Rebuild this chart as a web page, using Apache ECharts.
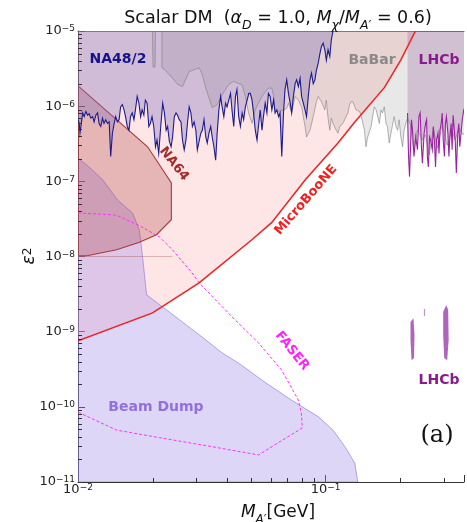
<!DOCTYPE html>
<html><head><meta charset="utf-8">
<script src="https://cdn.jsdelivr.net/npm/echarts@6/dist/echarts.min.js"></script>
<style>html,body{margin:0;padding:0;background:#fff}#c{width:467px;height:522px}</style>
</head><body><div id="c"></div>
<script>
// All shapes: pairs of [log10(M_A' / GeV), log10(epsilon^2)]
const xTickExps = [-2, -1];
const yTickExps = [-11, -10, -9, -8, -7, -6, -5];
const minorMultipliers = [2, 3, 4, 5, 6, 7, 8, 9];
const X_MIN_EXP = -2, X_MAX_EXP = -0.441, Y_MIN_EXP = -11, Y_MAX_EXP = -5;

const microbooneLine = [[-2.000,-9.12],[-1.699,-8.75],[-1.511,-8.35],[-1.299,-7.78],[-1.218,-7.55],[-1.082,-6.98],[-0.950,-6.49],[-0.882,-6.21],[-0.762,-5.75],[-0.697,-5.39],[-0.637,-5.00]];

const beamDumpEdge = [[-2.000,-6.69],[-1.952,-6.82],[-1.900,-6.98],[-1.840,-7.25],[-1.780,-7.42],[-1.752,-7.65],[-1.739,-8.01],[-1.723,-8.51],[-1.659,-8.67],[-1.591,-8.84],[-1.499,-9.07],[-1.419,-9.28],[-1.351,-9.42],[-1.242,-9.68],[-1.138,-9.91],[-1.030,-10.13],[-0.970,-10.31],[-0.922,-10.53],[-0.882,-10.75],[-0.870,-11.00]];

const na64Edge = [[-2.000,-5.73],[-1.719,-6.54],[-1.623,-7.02],[-1.623,-7.51],[-1.683,-7.71],[-1.752,-7.81],[-1.844,-7.91],[-1.964,-7.99],[-2.000,-7.99]];
const na64Floor = [[-2.000,-8.00],[-1.619,-8.00]];

const na48Line = [[-2.000,-6.18],[-1.995,-6.23],[-1.992,-6.36],[-1.988,-6.27],[-1.981,-6.09],[-1.975,-6.14],[-1.968,-6.07],[-1.961,-6.12],[-1.955,-6.10],[-1.948,-6.16],[-1.941,-6.14],[-1.935,-6.21],[-1.928,-6.12],[-1.921,-6.09],[-1.915,-6.23],[-1.908,-6.27],[-1.901,-6.16],[-1.895,-6.23],[-1.888,-6.18],[-1.881,-6.23],[-1.874,-6.21],[-1.868,-6.67],[-1.861,-6.36],[-1.854,-6.23],[-1.848,-6.14],[-1.841,-6.21],[-1.834,-6.18],[-1.828,-6.01],[-1.821,-5.98],[-1.814,-6.05],[-1.808,-6.14],[-1.801,-6.27],[-1.794,-6.32],[-1.788,-6.14],[-1.781,-6.09],[-1.774,-6.18],[-1.768,-6.05],[-1.761,-5.87],[-1.754,-5.96],[-1.747,-6.14],[-1.741,-6.05],[-1.734,-6.12],[-1.728,-5.92],[-1.721,-5.96],[-1.714,-6.27],[-1.708,-6.23],[-1.701,-6.14],[-1.694,-6.27],[-1.687,-6.54],[-1.681,-6.45],[-1.674,-6.63],[-1.667,-6.32],
[-1.658,-5.96],[-1.651,-6.09],[-1.644,-6.32],[-1.638,-6.27],[-1.631,-6.47],[-1.624,-6.54],[-1.618,-6.41],[-1.611,-6.14],[-1.604,-6.09],[-1.598,-6.12],[-1.591,-6.18],[-1.584,-6.21],[-1.578,-6.45],[-1.571,-6.58],[-1.564,-6.45],[-1.558,-6.23],[-1.551,-6.01],[-1.544,-6.09],[-1.538,-6.27],[-1.531,-6.21],[-1.524,-6.32],[-1.518,-6.58],[-1.511,-6.47],[-1.504,-6.36],[-1.498,-6.32],[-1.491,-6.18],[-1.484,-6.41],[-1.478,-6.49],[-1.471,-6.36],[-1.464,-6.27],[-1.458,-6.41],[-1.451,-6.54],[-1.444,-6.72],[-1.438,-6.36],[-1.431,-6.05],[-1.424,-5.87],[-1.418,-6.01],[-1.411,-6.14],[-1.404,-5.96],[-1.398,-6.01],[-1.391,-5.92],[-1.384,-5.83],[-1.378,-6.05],[-1.371,-6.27],[-1.364,-5.87],[-1.358,-5.78],[-1.351,-6.14],[-1.344,-6.27],[-1.337,-6.09],[-1.331,-6.18],[-1.324,-6.01],[-1.317,-5.92],
[-1.310,-5.83],[-1.304,-5.83],[-1.297,-5.92],[-1.291,-6.09],[-1.284,-6.32],[-1.277,-6.45],[-1.270,-6.23],[-1.264,-6.05],[-1.257,-6.32],[-1.251,-6.14],[-1.244,-5.96],[-1.237,-6.09],[-1.231,-5.83],[-1.224,-5.87],[-1.217,-6.05],[-1.210,-5.92],[-1.204,-6.09],[-1.197,-6.05],[-1.190,-6.14],[-1.184,-6.09],[-1.177,-6.67],[-1.170,-6.09],[-1.164,-5.78],[-1.157,-5.65],[-1.150,-5.83],[-1.143,-5.96],[-1.137,-6.09],[-1.130,-5.87],[-1.123,-5.70],[-1.117,-5.65],[-1.110,-5.74],[-1.103,-5.63],[-1.097,-5.87],[-1.090,-5.96],[-1.083,-6.05],[-1.077,-6.14],[-1.070,-5.87],[-1.063,-5.65],[-1.057,-5.56],[-1.050,-5.70],[-1.043,-5.65],[-1.037,-5.52],[-1.030,-5.43],[-1.023,-5.30],[-1.017,-5.21],[-1.010,-5.16],[-1.003,-5.25],[-0.997,-5.39],[-0.990,-5.25],[-0.983,-5.34],[-0.977,-5.12],[-0.970,-5.00]];

const babarEdge = [[-1.699,-5.00],[-1.697,-5.48],[-1.689,-5.48],[-1.687,-5.00],
[-1.661,-5.00],[-1.661,-5.49],[-1.651,-5.51],[-1.618,-5.63],[-1.598,-5.71],[-1.578,-5.74],[-1.551,-5.54],[-1.511,-5.49],[-1.498,-5.58],[-1.484,-5.76],[-1.471,-5.89],[-1.458,-6.02],[-1.438,-5.98],[-1.418,-5.85],[-1.391,-5.71],[-1.371,-5.67],[-1.351,-5.70],[-1.337,-5.72],[-1.324,-5.87],[-1.311,-6.09],[-1.297,-6.23],[-1.284,-6.05],[-1.271,-5.96],[-1.257,-5.87],[-1.244,-5.81],[-1.230,-5.76],[-1.217,-5.76],[-1.210,-5.87],[-1.204,-6.05],[-1.190,-6.07],[-1.170,-6.05],[-1.157,-6.03],[-1.150,-5.96],[-1.137,-6.09],[-1.123,-5.87],[-1.110,-5.92],[-1.097,-6.01],[-1.083,-6.27],[-1.077,-6.41],[-1.063,-6.32],[-1.050,-6.14],[-1.037,-5.94],
[-1.030,-5.87],[-1.017,-5.94],[-1.003,-6.05],[-0.997,-5.92],[-0.990,-6.16],[-0.983,-6.32],[-0.977,-6.16],[-0.970,-6.23],[-0.957,-6.32],[-0.950,-6.36],[-0.943,-6.27],[-0.930,-6.23],[-0.923,-6.18],[-0.910,-6.09],[-0.903,-5.98],[-0.897,-5.94],[-0.890,-5.94],[-0.877,-6.05],[-0.863,-6.07],[-0.857,-6.12],[-0.843,-6.32],[-0.837,-6.54],[-0.830,-6.41],[-0.816,-6.27],[-0.810,-6.14],[-0.803,-6.01],[-0.796,-6.05],[-0.783,-6.23],[-0.776,-6.05],[-0.770,-6.09],[-0.763,-6.01],[-0.756,-6.23],[-0.750,-6.27],[-0.743,-6.49],[-0.736,-6.36],[-0.723,-6.14],[-0.716,-6.27],[-0.709,-6.32],[-0.703,-6.18],[-0.696,-6.41],[-0.689,-6.54],[-0.683,-6.32],[-0.676,-6.23],[-0.669,-6.16],
[-0.657,-6.25],[-0.645,-6.58],[-0.629,-6.32],[-0.609,-6.45],[-0.597,-6.38],[-0.581,-6.65],[-0.565,-6.29],[-0.549,-6.56],[-0.529,-6.25],[-0.509,-6.52],[-0.489,-6.32],[-0.477,-6.45],[-0.461,-6.29],[-0.445,-6.38],[-0.429,-6.32],[-0.429,-5.00]];

const lhcbLine = [[-0.669,-6.09],[-0.665,-6.67],[-0.661,-6.94],[-0.656,-6.45],[-0.653,-6.18],[-0.649,-6.32],[-0.643,-6.67],[-0.636,-6.41],[-0.629,-6.58],[-0.623,-6.14],[-0.618,-6.09],[-0.613,-6.54],[-0.609,-6.76],[-0.602,-6.36],[-0.596,-6.23],[-0.592,-6.18],[-0.589,-6.67],[-0.585,-6.81],[-0.580,-6.41],[-0.576,-6.45],[-0.569,-6.58],[-0.565,-6.27],[-0.560,-6.49],[-0.556,-6.81],[-0.552,-6.45],[-0.546,-6.36],[-0.542,-6.63],[-0.538,-6.32],[-0.533,-6.23],[-0.529,-6.09],[-0.525,-6.45],[-0.520,-6.67],[-0.516,-6.23],[-0.512,-6.14],[-0.506,-6.36],[-0.502,-6.67],[-0.498,-6.41],[-0.493,-6.23],[-0.489,-6.58],[-0.485,-6.12],[-0.480,-6.32],[-0.476,-6.49],[-0.472,-6.89],[-0.466,-6.36],[-0.462,-6.23],[-0.458,-6.54],[-0.453,-6.36],[-0.448,-6.18],[-0.442,-6.05],[-0.429,-6.12]];
const lhcbIslandA = [[-0.657,-8.87],[-0.645,-8.82],[-0.641,-9.04],[-0.643,-9.35],[-0.653,-9.38],[-0.657,-9.11]];
const lhcbIslandB = [[-0.603,-8.70],[-0.599,-8.70],[-0.599,-8.79],[-0.603,-8.79]];
const lhcbIslandC = [[-0.525,-8.74],[-0.513,-8.65],[-0.505,-8.71],[-0.503,-9.11],[-0.509,-9.38],[-0.521,-9.35],[-0.525,-9.04]];

const faserContour = [[-2.000,-7.42],[-1.844,-7.45],[-1.752,-7.59],[-1.671,-7.74],[-1.619,-7.91],[-1.539,-8.22],[-1.511,-8.35],[-1.379,-8.80],[-1.271,-9.15],[-1.178,-9.51],[-1.110,-9.91],[-1.098,-10.08],[-1.094,-10.28],[-1.271,-10.64],[-1.459,-10.53],[-1.671,-10.41],[-1.844,-10.31],[-2.000,-10.07]];

// ---------------------------------------------------------------
const FONT = 'DejaVu Sans';
const toVal = p => [Math.pow(10, p[0]), Math.pow(10, p[1])];
const TOP = Y_MAX_EXP, BOTTOM = Y_MIN_EXP, LEFT = X_MIN_EXP;

function shape(name, pts, kind, style) {
  const data = pts.map(toVal);
  return {
    type: 'custom', name, coordinateSystem: 'cartesian2d', clip: true, silent: true,
    data,
    renderItem(params, api) {
      if (params.dataIndex !== 0) return null;
      return { type: kind, shape: { points: data.map(d => api.coord(d)) }, style };
    }
  };
}

const microbooneRegion = microbooneLine.concat([[LEFT, TOP]]);
const beamDumpRegion = beamDumpEdge.concat([[LEFT, BOTTOM]]);
const na48Region = na48Line.concat([[LEFT, TOP]]);
const lhcbRegion = [[-0.669, TOP]].concat(lhcbLine, [[-0.429, TOP]]);

function expLabel(v) {
  const e = Math.log10(v), r = Math.round(e);
  if (Math.abs(e - r) > 1e-6) return '';
  return '{b|10}{s|' + (r < 0 ? '\u2212' : '') + Math.abs(r) + '}';
}
const labelRich = {
  b: { fontSize: 13, fontFamily: FONT, color: '#222', lineHeight: 13, padding: [3, 0, 0, 0], verticalAlign: 'bottom' },
  s: { fontSize: 9, fontFamily: FONT, color: '#222', lineHeight: 10, verticalAlign: 'top' }
};

const xMinor = [];
xTickExps.forEach(e => minorMultipliers.forEach(k => { const v = k * Math.pow(10, e); if (Math.log10(v) < X_MAX_EXP) xMinor.push(v); }));
const yMinor = [];
yTickExps.slice(0, -1).forEach(e => minorMultipliers.forEach(k => yMinor.push(k * Math.pow(10, e))));

const series = [
  shape('MicroBooNE fill', microbooneRegion, 'polygon', { fill: 'rgba(255,165,165,0.28)', stroke: null }),
  shape('Beam Dump', beamDumpRegion, 'polygon', { fill: 'rgba(160,140,232,0.36)', stroke: 'rgba(140,120,215,0.8)', lineWidth: 0.8 }),
  shape('NA64', na64Edge, 'polygon', { fill: 'rgba(165,55,55,0.28)', stroke: '#a83a3a', lineWidth: 1.1 }),
  shape('NA64 floor', na64Floor, 'polyline', { fill: null, stroke: 'rgba(170,70,70,0.35)', lineWidth: 1 }),
  shape('NA48/2', na48Region, 'polygon', { fill: 'rgba(120,108,190,0.34)', stroke: null }),
  shape('BaBar', babarEdge, 'polygon', { fill: 'rgba(120,120,120,0.17)', stroke: 'rgba(120,120,120,0.7)', lineWidth: 0.8 }),
  shape('LHCb', lhcbRegion, 'polygon', { fill: 'rgba(150,85,155,0.28)', stroke: null }),
  shape('LHCb line', lhcbLine, 'polyline', { fill: null, stroke: '#9a22a0', lineWidth: 1.1 }),
  shape('LHCb A', lhcbIslandA, 'polygon', { fill: 'rgba(150,50,165,0.75)', stroke: null }),
  shape('LHCb B', lhcbIslandB, 'polygon', { fill: 'rgba(150,50,165,0.6)', stroke: null }),
  shape('LHCb C', lhcbIslandC, 'polygon', { fill: 'rgba(150,50,165,0.75)', stroke: null }),
  shape('FASER', faserContour, 'polyline', { fill: null, stroke: '#ff33ff', lineWidth: 1, lineDash: [3, 2] }),
  shape('NA48 line', na48Line, 'polyline', { fill: null, stroke: '#1c1c8e', lineWidth: 1.1 }),
  shape('MicroBooNE', microbooneLine, 'polyline', { fill: null, stroke: '#ee2222', lineWidth: 1.5 }),
  {
    type: 'custom', coordinateSystem: 'cartesian2d', silent: true, z: 5,
    data: xMinor.map(v => [v, Math.pow(10, Y_MIN_EXP)]),
    renderItem(params, api) {
      const cs = params.coordSys, p = api.coord([api.value(0), api.value(1)]);
      const x = Math.round(p[0]) + 0.5, yb = cs.y + cs.height;
      return { type: 'line', shape: { x1: x, y1: yb, x2: x, y2: yb - 4 }, style: { stroke: '#333', lineWidth: 1 } };
    }
  },
  {
    type: 'custom', coordinateSystem: 'cartesian2d', silent: true, z: 5,
    data: yMinor.map(v => [Math.pow(10, X_MIN_EXP), v]),
    renderItem(params, api) {
      const cs = params.coordSys, p = api.coord([api.value(0), api.value(1)]);
      const y = Math.round(p[1]) + 0.5;
      return { type: 'line', shape: { x1: cs.x, y1: y, x2: cs.x + 4, y2: y }, style: { stroke: '#333', lineWidth: 1 } };
    }
  }
];

const bold = (size, color) => ({ fontFamily: FONT, fontWeight: 'bold', fontSize: size, fill: color, align: 'center', verticalAlign: 'middle' });
const deg = d => d * Math.PI / 180;

const option = {
  animation: false,
  backgroundColor: '#fff',
  grid: { left: 78, right: 0, top: 31, bottom: 40, containLabel: false },
  xAxis: [{
    type: 'log', logBase: 10, min: Math.pow(10, X_MIN_EXP), max: Math.pow(10, X_MAX_EXP), interval: 1,
    axisLine: { show: true, lineStyle: { color: '#333', width: 1 } },
    axisTick: { show: true, inside: true, length: 7, lineStyle: { color: '#333' } },
    axisLabel: { formatter: expLabel, rich: labelRich, margin: 1 },
    splitLine: { show: false }
  }, {
    type: 'log', logBase: 10, position: 'top', min: Math.pow(10, X_MIN_EXP), max: Math.pow(10, X_MAX_EXP),
    axisLine: { show: true, lineStyle: { color: '#666', width: 1 } },
    axisTick: { show: false }, axisLabel: { show: false }, splitLine: { show: false }
  }],
  yAxis: {
    type: 'log', logBase: 10, min: Math.pow(10, Y_MIN_EXP), max: Math.pow(10, Y_MAX_EXP), interval: 1,
    axisLine: { show: true, lineStyle: { color: '#333', width: 1 } },
    axisTick: { show: true, inside: true, length: 7, lineStyle: { color: '#333' } },
    axisLabel: { formatter: expLabel, rich: labelRich, margin: 3 },
    splitLine: { show: false }
  },
  series,
  graphic: [
    { type: 'text', z: 100, x: 278, y: 19, silent: true, style: {
      text: '{r|Scalar DM  (}{i|\u03b1}{sub|D}{r| = 1.0, }{i|M}{sub|\u03c7}{r|/}{i|M}{sub|A\u2032}{r| = 0.6)}',
      align: 'center', verticalAlign: 'middle',
      rich: {
        r: { fontFamily: FONT, fontSize: 17.5, fill: '#111', lineHeight: 20, verticalAlign: 'top' },
        i: { fontFamily: FONT, fontSize: 17.5, fontStyle: 'italic', fill: '#111', lineHeight: 20, verticalAlign: 'top' },
        sub: { fontFamily: FONT, fontSize: 12.5, fontStyle: 'italic', fill: '#111', lineHeight: 12, padding: [10, 0, 0, 0], verticalAlign: 'top' }
      } } },
    { type: 'text', z: 100, x: 278, y: 514, silent: true, style: {
      text: '{i|M}{sub|A\u2032}{r|[GeV]}', align: 'center', verticalAlign: 'middle',
      rich: {
        r: { fontFamily: FONT, fontSize: 17, fill: '#111', lineHeight: 20, verticalAlign: 'top' },
        i: { fontFamily: FONT, fontSize: 17, fontStyle: 'italic', fill: '#111', lineHeight: 20, verticalAlign: 'top' },
        sub: { fontFamily: FONT, fontSize: 12, fontStyle: 'italic', fill: '#111', lineHeight: 12, padding: [10, 0, 0, 0], verticalAlign: 'top' }
      } } },
    { type: 'text', z: 100, x: 30, y: 256, rotation: deg(90), silent: true, style: {
      text: '{i|\u03b5}{s|2}', align: 'center', verticalAlign: 'middle',
      rich: {
        i: { fontFamily: FONT, fontSize: 17, fontStyle: 'italic', fill: '#111', lineHeight: 17, padding: [5, 0, 0, 0], verticalAlign: 'bottom' },
        s: { fontFamily: FONT, fontSize: 12, fill: '#111', lineHeight: 12, verticalAlign: 'top' }
      } } },
    { type: 'text', z: 100, x: 118, y: 59, silent: true, style: Object.assign({ text: 'NA48/2' }, bold(14, '#14148a')) },
    { type: 'text', z: 100, x: 372, y: 60, silent: true, style: Object.assign({ text: 'BaBar' }, bold(14, '#8a8a8a')) },
    { type: 'text', z: 100, x: 439, y: 60, silent: true, style: Object.assign({ text: 'LHCb' }, bold(14, '#8b1a8e')) },
    { type: 'text', z: 100, x: 439, y: 380, silent: true, style: Object.assign({ text: 'LHCb' }, bold(14, '#8b1a8e')) },
    { type: 'text', z: 100, x: 156, y: 407, silent: true, style: Object.assign({ text: 'Beam Dump' }, bold(14, '#9370db')) },
    { type: 'text', z: 100, x: 174, y: 164, rotation: deg(-52), silent: true, style: Object.assign({ text: 'NA64' }, bold(13, '#a52a2a')) },
    { type: 'text', z: 100, x: 306, y: 200, rotation: deg(49), silent: true, style: Object.assign({ text: 'MicroBooNE' }, bold(13, '#ee2222')) },
    { type: 'text', z: 100, x: 292, y: 351, rotation: deg(-51), silent: true, style: Object.assign({ text: 'FASER' }, bold(13, '#ff22ff')) },
    { type: 'text', z: 100, x: 437, y: 436, silent: true, style: { text: '(a)', fontFamily: 'DejaVu Serif', fontSize: 24, fill: '#111', align: 'center', verticalAlign: 'middle' } }
  ]
};

const chart = echarts.init(document.getElementById('c'), null, { renderer: 'canvas' });
chart.setOption(option);
</script>
</body></html>
